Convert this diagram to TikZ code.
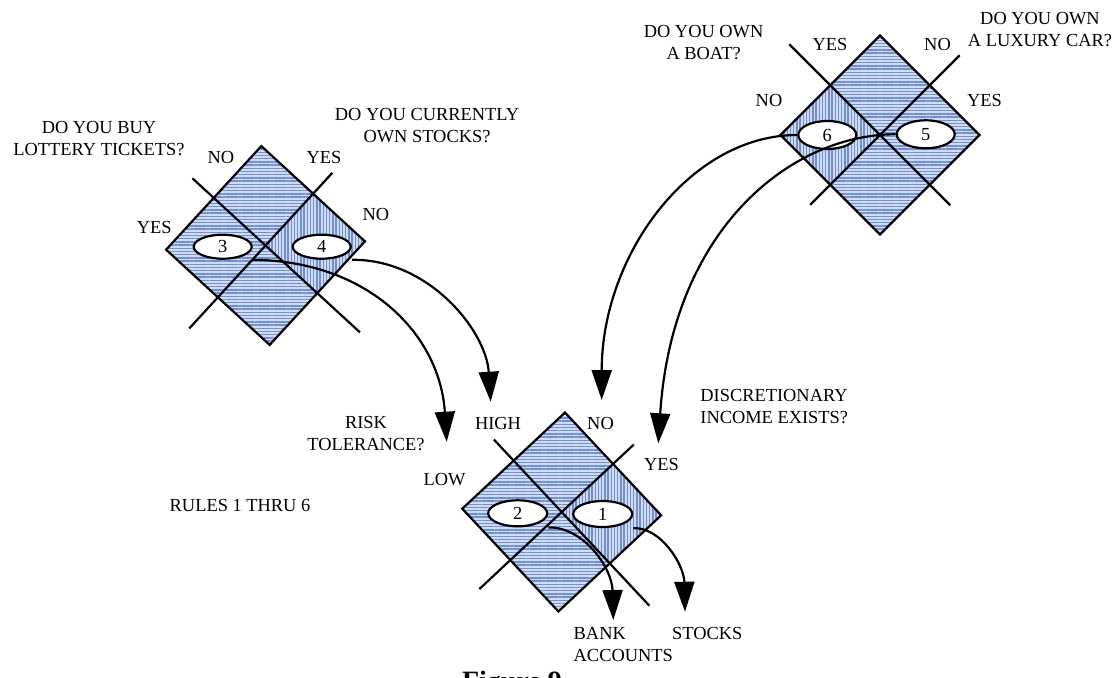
\documentclass[tikz,border=0pt]{standalone}
\usepackage{fontspec}
\setmainfont{Liberation Serif}
\usetikzlibrary{shapes.geometric,arrows.meta,patterns.meta,calc}

\definecolor{hatchbase}{RGB}{208,220,243}
\definecolor{hatchline}{RGB}{112,142,206}

\tikzset{
  lbl/.style={font=\fontsize{9.2}{11}\selectfont, inner sep=0pt, anchor=base, align=center},
  rulenode/.style={draw, ellipse, line width=1.1pt, fill=white, minimum width=29pt,
    minimum height=13pt, inner sep=0pt, font=\fontsize{9.2}{11}\selectfont},
  link/.style={line width=1.1pt, -{Triangle[length=15pt,width=10pt]}},
  hpat/.style={fill=hatchbase, postaction={pattern={Lines[angle=0,distance=1.6pt,line width=0.7pt]}, pattern color=hatchline}},
  vpat/.style={fill=hatchbase, postaction={pattern={Lines[angle=90,distance=1.6pt,line width=0.7pt]}, pattern color=hatchline}},
  gridline/.style={line width=1.1pt},
}

% A decision board: a square on its point, split in four by two crossing lines,
% with the east cell hatched vertically.  #1 centre, #2 rotation.
\newcommand\ruleboard[2]{%
  \begin{scope}[shift={#1}, rotate=#2]
    \path[hpat] (0,-99.5) -- (99.5,0) -- (0,99.5) -- (-99.5,0) -- cycle;
    \path[vpat] (0,0) -- (49.75,-49.75) -- (99.5,0) -- (49.75,49.75) -- cycle;
    \draw[gridline] (0,-99.5) -- (99.5,0) -- (0,99.5) -- (-99.5,0) -- cycle;
    \draw[gridline] (-70.2,-70.2) -- (90.7,90.7);
    \draw[gridline] (69.8,-69.8) -- (-79.7,79.7);
  \end{scope}}

\begin{document}
\begin{tikzpicture}[x=0.5pt,y=-0.5pt]
\useasboundingbox (0,0) rectangle (1119,677);

% boards
\ruleboard{(265.5,245.5)}{2.4}
\ruleboard{(880,135)}{180}
\ruleboard{(561.7,512)}{-1.9}

% rules
\node[rulenode, minimum height=12pt] (r3) at (222.7,246.7) {3};
\node[rulenode, minimum height=12pt] (r4) at (321.7,246.7) {4};
\node[rulenode, minimum height=14pt] (r6) at (827.3,135) {6};
\node[rulenode, minimum height=14pt] (r5) at (925.7,134.3) {5};
\node[rulenode, minimum width=29.5pt] (r2) at (517.7,513.3) {2};
\node[rulenode, minimum width=29.5pt] (r1) at (602.7,514) {1};

% arrow ends
\coordinate (tipA) at (490.7,401.7);
\coordinate (tipB) at (446.7,441.7);
\coordinate (tipC) at (601.7,400);
\coordinate (tipD) at (658.3,443.3);
\coordinate (tipE) at (613.3,620);
\coordinate (tipF) at (685,611.7);

% connectors
\draw[link] (r4.east |- r4.south) .. controls (428,258.7) and (486,330) .. (tipA);
\draw[link] (r3.east |- r3.south) .. controls (369,260.7) and (440,335) .. (tipB);
\draw[link] (r6.west) .. controls (690,135) and (601.7,255) .. (tipC);
\draw[link] (r5.west) .. controls (790,134.3) and (672,230) .. (tipD);
\draw[link] (r2.east |- r2.south) .. controls (583.7,526.7) and (612,568) .. (tipE);
\draw[link] (r1.east |- r1.south) .. controls (661.4,527.3) and (684,565) .. (tipF);

% questions and answers, left board (two-line texts sit on their last line)
\node[lbl] (q1) at (99,155.5) {DO YOU BUY\\LOTTERY TICKETS?};
\node[lbl] (q2) at (427,142.7) {DO YOU CURRENTLY\\OWN STOCKS?};
\node[lbl] (a1) at (220.8,163.3) {NO};
\node[lbl] (a2) at (324,163.3) {YES};
\node[lbl] (a3) at (154.3,233.3) {YES};
\node[lbl] (a4) at (375.8,220.7) {NO};

% questions and answers, upper right board
\node[lbl] (q3) at (703.6,59.3) {DO YOU OWN\\A BOAT?};
\node[lbl] (q4) at (1040,46) {DO YOU OWN\\A LUXURY CAR?};
\node[lbl] (a5) at (830,50) {YES};
\node[lbl] (a6) at (937.5,50) {NO};
\node[lbl] (a7) at (769,106) {NO};
\node[lbl] (a8) at (984.5,106) {YES};

% questions and answers, lower board
\node[lbl] (q5) at (366,450.7) {RISK\\TOLERANCE?};
\node[lbl, align=left, anchor=base west] (q6) at (700,423.3) {DISCRETIONARY\\INCOME EXISTS?};
\node[lbl] (a9) at (498,429.3) {HIGH};
\node[lbl] (a10) at (600.5,429.3) {NO};
\node[lbl] (a11) at (444.5,485) {LOW};
\node[lbl] (a12) at (661.5,470.7) {YES};

% outcomes
\node[lbl, align=left, anchor=base west] (o1) at (573.3,661.7) {BANK\\ACCOUNTS};
\node[lbl] (o2) at (707.3,639.3) {STOCKS};

\node[lbl] (title) at (240,511) {RULES 1 THRU 6};
\node[font=\fontsize{14}{16}\selectfont\bfseries, inner sep=0pt, anchor=base] (caption) at (512,690) {Figure 9};
\end{tikzpicture}
\end{document}
